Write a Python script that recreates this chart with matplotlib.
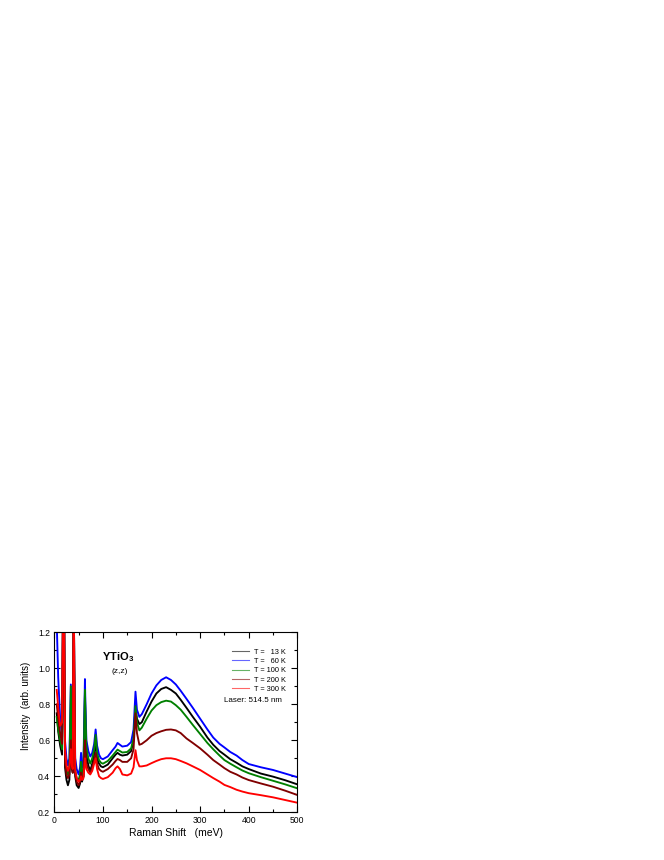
import matplotlib
matplotlib.use("Agg")
import matplotlib.pyplot as plt
from matplotlib.ticker import MultipleLocator, FormatStrFormatter

plt.rcParams['font.family'] = ['Liberation Sans', 'DejaVu Sans']
plt.rcParams['mathtext.fontset'] = 'custom'
plt.rcParams['mathtext.rm'] = 'Liberation Sans'
plt.rcParams['mathtext.bf'] = 'Liberation Sans:bold'

shift = [5, 8, 12, 16, 18, 19, 20, 22, 25, 28, 31, 34, 36, 38, 39, 40, 41, 43, 46, 50,
         53, 55, 57, 60, 63, 64, 66, 70, 74, 78, 82, 85, 88, 92, 96, 100, 110, 120, 126, 130,
         135, 140, 150, 158, 163, 167, 170, 175, 180, 190, 200, 210, 220, 230, 240, 250, 260, 272, 285, 300,
         315, 327, 340, 350, 362, 375, 387, 400, 425, 450, 475, 500]

i_13K = [0.75, 0.65, 0.57, 0.52, 1.40, 1.50, 1.40, 0.45, 0.38, 0.35, 0.38, 0.70, 0.45, 0.42, 1.00, 1.50, 1.00, 0.40, 0.35, 0.335,
         0.36, 0.45, 0.37, 0.40, 0.85, 0.72, 0.52, 0.46, 0.43, 0.47, 0.52, 0.60, 0.50, 0.47, 0.455, 0.45, 0.465, 0.50, 0.52, 0.53,
         0.52, 0.515, 0.52, 0.54, 0.60, 0.78, 0.72, 0.69, 0.70, 0.76, 0.815, 0.86, 0.885, 0.895, 0.88, 0.86, 0.825, 0.78, 0.73, 0.675,
         0.615, 0.575, 0.54, 0.52, 0.495, 0.475, 0.455, 0.44, 0.415, 0.398, 0.378, 0.355]

i_60K = [1.25, 0.95, 0.72, 0.62, 1.40, 1.50, 1.40, 0.60, 0.50, 0.46, 0.50, 0.91, 0.60, 0.55, 1.00, 1.50, 1.00, 0.50, 0.44, 0.41,
         0.45, 0.53, 0.45, 0.48, 0.94, 0.80, 0.60, 0.54, 0.51, 0.53, 0.58, 0.66, 0.57, 0.52, 0.50, 0.495, 0.51, 0.545, 0.565, 0.585,
         0.575, 0.565, 0.57, 0.59, 0.66, 0.87, 0.77, 0.73, 0.745, 0.80, 0.86, 0.905, 0.935, 0.95, 0.935, 0.91, 0.875, 0.83, 0.78, 0.72,
         0.66, 0.615, 0.58, 0.56, 0.535, 0.515, 0.49, 0.468, 0.45, 0.435, 0.415, 0.395]

i_100K = [0.73, 0.66, 0.60, 0.55, 1.40, 1.50, 1.40, 0.50, 0.44, 0.41, 0.44, 0.90, 0.50, 0.46, 1.00, 1.50, 1.00, 0.43, 0.39, 0.38,
          0.41, 0.48, 0.40, 0.43, 0.88, 0.75, 0.56, 0.50, 0.47, 0.50, 0.55, 0.63, 0.53, 0.49, 0.475, 0.47, 0.485, 0.515, 0.535, 0.548,
          0.54, 0.532, 0.535, 0.555, 0.61, 0.79, 0.70, 0.655, 0.67, 0.72, 0.765, 0.795, 0.812, 0.82, 0.815, 0.795, 0.77, 0.73, 0.685, 0.635,
          0.585, 0.55, 0.515, 0.49, 0.47, 0.45, 0.432, 0.417, 0.395, 0.375, 0.355, 0.333]

i_200K = [0.80, 0.72, 0.64, 0.58, 1.40, 1.50, 1.40, 0.48, 0.41, 0.39, 0.41, 0.60, 0.45, 0.42, 1.00, 1.50, 1.00, 0.41, 0.37, 0.35,
          0.37, 0.42, 0.38, 0.40, 0.60, 0.55, 0.47, 0.44, 0.42, 0.45, 0.49, 0.53, 0.47, 0.44, 0.43, 0.425, 0.44, 0.465, 0.485, 0.496,
          0.49, 0.48, 0.48, 0.50, 0.55, 0.75, 0.64, 0.575, 0.58, 0.60, 0.625, 0.64, 0.65, 0.658, 0.66, 0.655, 0.64, 0.61, 0.585, 0.555,
          0.52, 0.49, 0.465, 0.445, 0.425, 0.41, 0.393, 0.379, 0.36, 0.342, 0.32, 0.296]

i_300K = [0.88, 0.78, 0.68, 0.70, 1.40, 1.50, 1.40, 0.55, 0.46, 0.43, 0.45, 0.55, 0.46, 0.44, 1.00, 1.50, 1.00, 0.43, 0.39, 0.37,
          0.38, 0.40, 0.38, 0.39, 0.50, 0.48, 0.44, 0.42, 0.41, 0.43, 0.47, 0.50, 0.44, 0.40, 0.39, 0.385, 0.395, 0.42, 0.445, 0.455,
          0.44, 0.41, 0.405, 0.415, 0.45, 0.545, 0.49, 0.455, 0.455, 0.46, 0.473, 0.485, 0.495, 0.50, 0.50, 0.495, 0.485, 0.472, 0.455, 0.435,
          0.41, 0.39, 0.37, 0.352, 0.34, 0.325, 0.315, 0.306, 0.295, 0.283, 0.268, 0.253]

labels = ["T =   13 K", "T =   60 K", "T = 100 K", "T = 200 K", "T = 300 K"]
series = [i_13K, i_60K, i_100K, i_200K, i_300K]
colors = ['#000000', '#0000ff', '#008000', '#800000', '#ff0000']

fig = plt.figure(figsize=(6.64, 8.6), dpi=100)
ax = fig.add_axes([0.0818, 0.0555, 0.366, 0.2093])

handles = []
for y, c, lab in zip(series, colors, labels):
    h, = ax.plot(shift, y, color=c, lw=1.35, label=lab)
    handles.append(h)

ax.set_xlim(0, 500)
ax.set_ylim(0.2, 1.2)
ax.xaxis.set_major_locator(MultipleLocator(100))
ax.xaxis.set_minor_locator(MultipleLocator(50))
ax.yaxis.set_major_locator(MultipleLocator(0.2))
ax.yaxis.set_minor_locator(MultipleLocator(0.1))
ax.yaxis.set_major_formatter(FormatStrFormatter('%.1f'))
ax.tick_params(which='both', direction='in', top=True, right=True, labelsize=6.2, width=0.8)
ax.tick_params(which='major', length=4, pad=3)
ax.tick_params(which='minor', length=2)
for s in ax.spines.values():
    s.set_linewidth(0.8)

ax.set_xlabel("Raman Shift   (meV)", fontsize=7.5, labelpad=2)
ax.set_ylabel("Intensity  (arb. units)", fontsize=7, labelpad=6)
ax.yaxis.set_label_coords(-0.095, 0.59)

leg = ax.legend(handles=handles, loc='upper left', bbox_to_anchor=(0.73, 0.91),
                frameon=False, fontsize=5.3, handlelength=2.4, handletextpad=0.6,
                labelspacing=0.3, borderpad=0, borderaxespad=0)
for lh in leg.get_lines():
    lh.set_linewidth(0.8)
    lh.set_alpha(0.6)

ax.text(0.698, 0.62, "Laser: 514.5 nm", transform=ax.transAxes, fontsize=5.8, ha='left', va='center')
ax.text(0.262, 0.86, r"$\mathbf{YTiO}_\mathbf{3}$", transform=ax.transAxes, fontsize=8, ha='center', va='center')
ax.text(0.267, 0.78, "(z,z)", transform=ax.transAxes, fontsize=6, ha='center', va='center')

fig.savefig("out.png", dpi=100)
